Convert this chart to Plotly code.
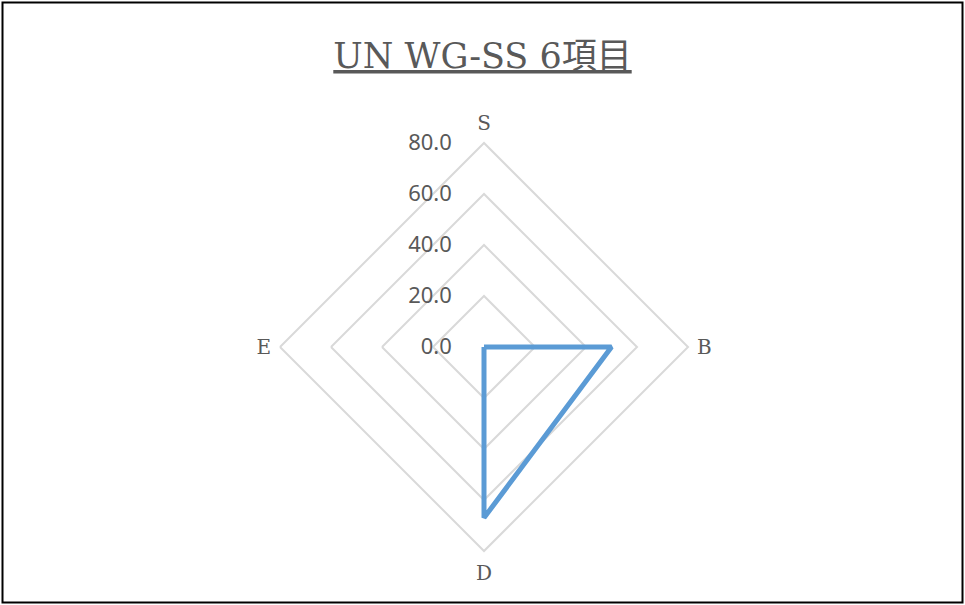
import plotly.graph_objects as go

categories = ["S", "B", "D", "E"]
values = [0, 50, 67, 0]
radial_ticks = [0, 20, 40, 60, 80]
radial_ticktext = ["0.0", "20.0", "40.0", "60.0", "80.0"]
title_text = "UN WG-SS 6項目"

W, H = 965, 605
cx, cy, R = 484, 347, 204

fig = go.Figure()
fig.add_trace(go.Scatterpolar(
    r=values + [values[0]],
    theta=categories + [categories[0]],
    mode="lines",
    line=dict(color="#5B9BD5", width=5),
    hoverinfo="skip",
    showlegend=False,
))

fig.update_layout(
    width=W, height=H,
    margin=dict(l=0, r=0, t=0, b=0),
    paper_bgcolor="white",
    plot_bgcolor="white",
    title=dict(
        text=title_text,
        x=0.5, xanchor="center",
        y=1 - 68 / H, yanchor="bottom",
        font=dict(family="DejaVu Serif, Noto Sans CJK JP", size=35, color="#595959", lineposition="under"),
    ),
    polar=dict(
        domain=dict(x=[(cx - R) / W, (cx + R) / W], y=[(H - cy - R) / H, (H - cy + R) / H]),
        bgcolor="white",
        gridshape="linear",
        radialaxis=dict(
            range=[0, 80],
            tickvals=radial_ticks,
            ticktext=radial_ticktext,
            angle=90,
            tickangle=90,
            side="counterclockwise",
            showline=False,
            ticks="outside",
            ticklen=24,
            tickcolor="rgba(0,0,0,0)",
            gridcolor="#D9D9D9",
            gridwidth=2,
            tickfont=dict(family="Noto Sans", size=22, color="#595959"),
        ),
        angularaxis=dict(
            categoryorder="array",
            categoryarray=categories,
            direction="clockwise",
            rotation=90,
            showgrid=False,
            showline=True,
            linecolor="#D9D9D9",
            linewidth=2,
            ticks="outside",
            ticklen=4,
            tickcolor="rgba(0,0,0,0)",
            tickfont=dict(family="DejaVu Serif", size=20, color="#595959"),
        ),
    ),
    shapes=[dict(
        type="rect", xref="paper", yref="paper",
        x0=2.5 / W, x1=1 - 2.5 / W, y0=2.5 / H, y1=1 - 2.5 / H,
        line=dict(color="black", width=2),
    )],
)

fig.write_html("out.html")
